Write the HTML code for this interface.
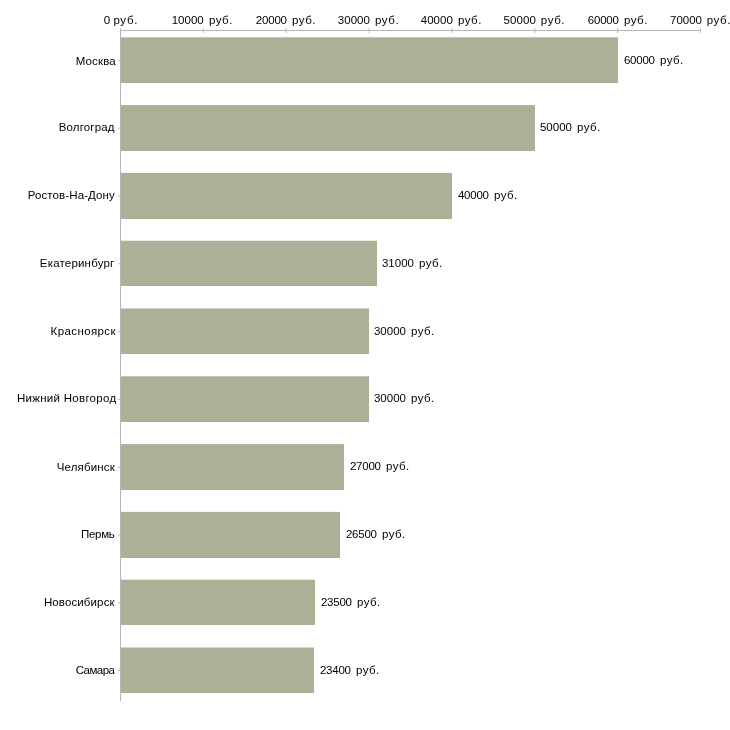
<!DOCTYPE html>
<html><head><meta charset="utf-8"><title>chart</title>
<style>
html,body{margin:0;padding:0;background:#fff;}
body{width:730px;height:730px;overflow:hidden;}
svg{display:block;}
text{font-family:"Liberation Sans",sans-serif;font-size:11.5px;fill:#000;}
</style></head><body>
<svg width="730" height="730" viewBox="0 0 730 730">
<rect x="0" y="0" width="730" height="730" fill="#ffffff"/>
<rect x="121" y="37.3" width="497" height="45.7" fill="#acb097"/>
<rect x="121" y="105.1" width="414" height="45.9" fill="#acb097"/>
<rect x="121" y="172.9" width="331" height="46.1" fill="#acb097"/>
<rect x="121" y="240.7" width="256" height="45.3" fill="#acb097"/>
<rect x="121" y="308.5" width="248" height="45.5" fill="#acb097"/>
<rect x="121" y="376.3" width="248" height="45.7" fill="#acb097"/>
<rect x="121" y="444.1" width="223" height="45.9" fill="#acb097"/>
<rect x="121" y="511.9" width="219" height="46.1" fill="#acb097"/>
<rect x="121" y="579.7" width="194" height="45.3" fill="#acb097"/>
<rect x="121" y="647.5" width="193" height="45.5" fill="#acb097"/>
<rect x="120" y="30" width="581" height="1" fill="#b6b6b6"/>
<rect x="120.00" y="28" width="1" height="5" fill="#c3c38e"/>
<rect x="202.86" y="28" width="1" height="5" fill="#c3c38e"/>
<rect x="285.71" y="28" width="1" height="5" fill="#c3c38e"/>
<rect x="368.57" y="28" width="1" height="5" fill="#c3c38e"/>
<rect x="451.43" y="28" width="1" height="5" fill="#c3c38e"/>
<rect x="534.29" y="28" width="1" height="5" fill="#c3c38e"/>
<rect x="617.14" y="28" width="1" height="5" fill="#c3c38e"/>
<rect x="700.00" y="28" width="1" height="5" fill="#c3c38e"/>
<rect x="118" y="59.9" width="3" height="1" fill="#c3c38e"/>
<rect x="118" y="127.7" width="3" height="1" fill="#c3c38e"/>
<rect x="118" y="195.5" width="3" height="1" fill="#c3c38e"/>
<rect x="118" y="263.3" width="3" height="1" fill="#c3c38e"/>
<rect x="118" y="331.1" width="3" height="1" fill="#c3c38e"/>
<rect x="118" y="398.9" width="3" height="1" fill="#c3c38e"/>
<rect x="118" y="466.7" width="3" height="1" fill="#c3c38e"/>
<rect x="118" y="534.5" width="3" height="1" fill="#c3c38e"/>
<rect x="118" y="602.3" width="3" height="1" fill="#c3c38e"/>
<rect x="118" y="670.1" width="3" height="1" fill="#c3c38e"/>
<rect x="120" y="30" width="1" height="671" fill="#b6b6b6"/>
<g style="will-change:transform;filter:grayscale(1)">
<text x="103.80" y="24.0" style="letter-spacing:0.000px">0</text>
<text x="113.40" y="24.0" style="letter-spacing:0.700px">руб.</text>
<text x="171.70" y="24.0" style="letter-spacing:0.025px">10000</text>
<text x="208.90" y="24.0" style="letter-spacing:0.533px">руб.</text>
<text x="255.80" y="24.0" style="letter-spacing:-0.200px">20000</text>
<text x="292.00" y="24.0" style="letter-spacing:0.533px">руб.</text>
<text x="337.70" y="24.0" style="letter-spacing:0.075px">30000</text>
<text x="374.90" y="24.0" style="letter-spacing:0.600px">руб.</text>
<text x="420.80" y="24.0" style="letter-spacing:0.000px">40000</text>
<text x="457.90" y="24.0" style="letter-spacing:0.533px">руб.</text>
<text x="503.50" y="24.0" style="letter-spacing:0.125px">50000</text>
<text x="540.80" y="24.0" style="letter-spacing:0.600px">руб.</text>
<text x="587.70" y="24.0" style="letter-spacing:-0.175px">60000</text>
<text x="623.90" y="24.0" style="letter-spacing:0.533px">руб.</text>
<text x="670.10" y="24.0" style="letter-spacing:-0.025px">70000</text>
<text x="706.80" y="24.0" style="letter-spacing:0.533px">руб.</text>
<text x="75.70" y="65.0" style="letter-spacing:0.140px">Москва</text>
<text x="623.90" y="64.0" style="letter-spacing:-0.225px">60000</text>
<text x="659.90" y="64.0" style="letter-spacing:0.500px">руб.</text>
<text x="58.70" y="131.0" style="letter-spacing:0.150px">Волгоград</text>
<text x="539.90" y="131.0" style="letter-spacing:0.025px">50000</text>
<text x="576.90" y="131.0" style="letter-spacing:0.500px">руб.</text>
<text x="27.70" y="199.0" style="letter-spacing:0.108px">Ростов-На-Дону</text>
<text x="457.90" y="199.0" style="letter-spacing:-0.225px">40000</text>
<text x="493.90" y="199.0" style="letter-spacing:0.500px">руб.</text>
<text x="39.80" y="267.0" style="letter-spacing:0.191px">Екатеринбург</text>
<text x="381.90" y="267.0" style="letter-spacing:0.025px">31000</text>
<text x="418.90" y="267.0" style="letter-spacing:0.500px">руб.</text>
<text x="50.60" y="335.0" style="letter-spacing:0.389px">Красноярск</text>
<text x="373.90" y="335.0" style="letter-spacing:0.025px">30000</text>
<text x="410.90" y="335.0" style="letter-spacing:0.500px">руб.</text>
<text x="16.90" y="402.0" style="letter-spacing:0.286px">Нижний Новгород</text>
<text x="373.90" y="402.0" style="letter-spacing:0.025px">30000</text>
<text x="410.90" y="402.0" style="letter-spacing:0.500px">руб.</text>
<text x="56.80" y="471.0" style="letter-spacing:0.138px">Челябинск</text>
<text x="349.90" y="470.0" style="letter-spacing:-0.225px">27000</text>
<text x="385.90" y="470.0" style="letter-spacing:0.500px">руб.</text>
<text x="80.90" y="538.0" style="letter-spacing:-0.250px">Пермь</text>
<text x="345.90" y="538.0" style="letter-spacing:-0.225px">26500</text>
<text x="381.90" y="538.0" style="letter-spacing:0.500px">руб.</text>
<text x="43.90" y="606.0" style="letter-spacing:0.120px">Новосибирск</text>
<text x="320.90" y="606.0" style="letter-spacing:-0.225px">23500</text>
<text x="356.90" y="606.0" style="letter-spacing:0.500px">руб.</text>
<text x="75.70" y="674.0" style="letter-spacing:-0.520px">Самара</text>
<text x="319.90" y="674.0" style="letter-spacing:-0.225px">23400</text>
<text x="355.90" y="674.0" style="letter-spacing:0.500px">руб.</text>
</g>
</svg></body></html>
